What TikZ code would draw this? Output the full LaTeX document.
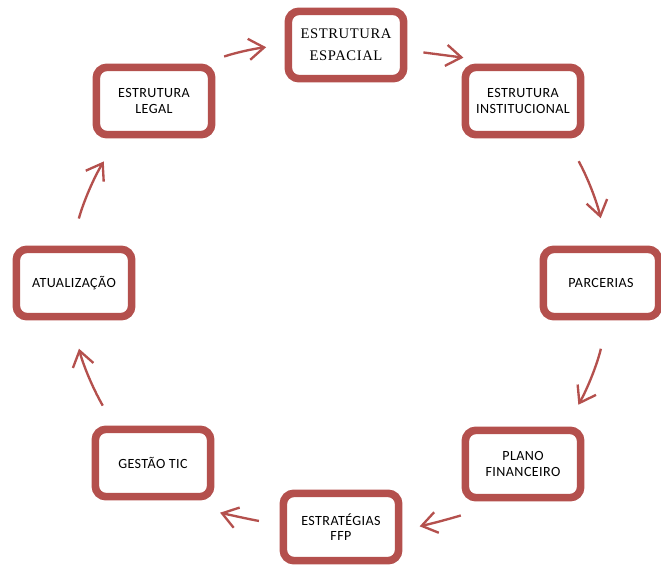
\documentclass[tikz,border=0pt]{standalone}
\usepackage{fontspec}
\newfontfamily\rotulo[LetterSpace=3]{Carlito}
\newfontfamily\rotuloserif[LetterSpace=4]{Liberation Serif}
\usepackage{tikz}
\usetikzlibrary{
    positioning,
    arrows.meta,
    shadows
}
\definecolor{vermelho}{RGB}{180,80,77}
\tikzset{
    >={Straight Barb[length=13pt,width=18pt]},
    etapa/.style={
        draw=vermelho,
        line width=6.5pt,
        fill=white,
        rounded corners=9pt,
        minimum width=3.46cm,
        minimum height=2.02cm,
        align=center,
        font=\rotulo\fontsize{12}{13}\selectfont,
        drop shadow={shadow xshift=2pt, shadow yshift=-2.5pt,
            opacity=0.35, fill=black}
    },
    seta/.style={
        ->,
        color=vermelho,
        line width=2pt
    }
}

\begin{document}
\begin{tikzpicture}[
    x=0.03cm,
    y=-0.03cm
]
    \useasboundingbox (0,0) rectangle (661,571);

    % Etapas do ciclo
    \node[etapa, font=\rotuloserif\fontsize{12.5}{19}\selectfont]
                 (espacial) at (346,45)  {ESTRUTURA\\ESPACIAL};
    \node[etapa] (inst)     at (523,101) {ESTRUTURA\\INSTITUCIONAL};
    \node[etapa] (parc)     at (601,283) {PARCERIAS};
    \node[etapa] (plano)    at (523,464) {PLANO\\FINANCEIRO};
    \node[etapa] (estr)     at (341,527) {ESTRAT\'EGIAS\\FFP};
    \node[etapa] (gestao)   at (153,463) {GEST\~AO TIC};
    \node[etapa] (atual)    at (74,283)  {ATUALIZA\c{C}\~AO};
    \node[etapa] (legal)    at (154,101) {ESTRUTURA\\LEGAL};

    % Setas no sentido horario
    \path[seta]

        % topo
        (legal.37)
            edge[bend left=6, shorten <=18.4pt, shorten >=15.8pt] (espacial.west)
        (espacial.-5)
            edge[shorten <=13.7pt, shorten >=38.9pt] (inst.111)

        % lado direito
        (inst.-41)
            edge[bend left=8, shorten <=22.2pt, shorten >=23.9pt] (parc.81)
        (parc.-80)
            edge[bend left=8, shorten <=24.8pt, shorten >=21.3pt] (plano.41)

        % base
        (plano.-124)
            edge[bend left=4, shorten <=33.7pt, shorten >=15pt] (estr.-3)
        (estr.178)
            edge[bend left=3, shorten <=17.9pt, shorten >=36.4pt] (gestao.-55)

        % lado esquerdo
        (gestao.136)
            edge[bend left=8, shorten <=19.6pt, shorten >=24.8pt] (atual.-93)
        (atual.94)
            edge[bend left=8, shorten <=23.9pt, shorten >=23pt] (legal.-134);

\end{tikzpicture}
\end{document}
